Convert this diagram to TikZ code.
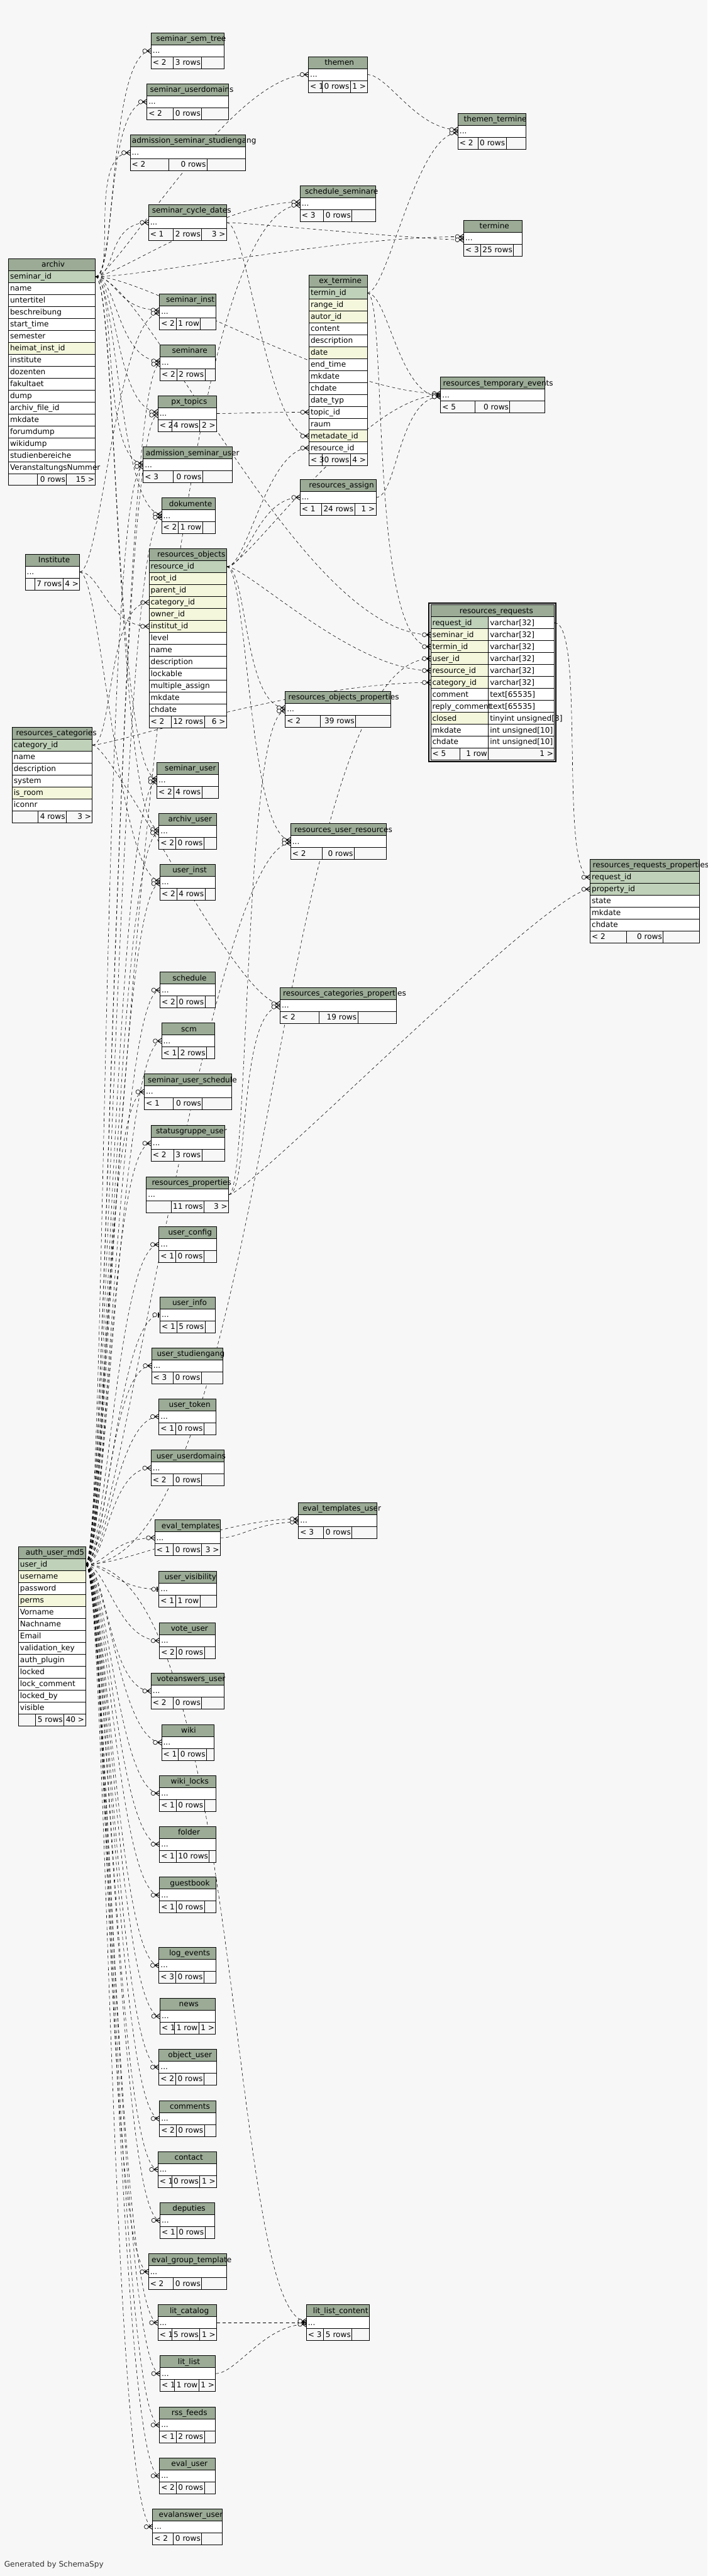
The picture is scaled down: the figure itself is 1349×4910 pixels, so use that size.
\documentclass[tikz,border=0pt]{standalone}
\usepackage{fontspec}
\newfontfamily\erfont{DejaVu Sans}
\usetikzlibrary{calc}
\pgfdeclarelayer{back}
\pgfsetlayers{back,main}
\definecolor{hdrcol}{RGB}{155,171,150}
\definecolor{colp}{RGB}{191,209,185}
\definecolor{colf}{RGB}{244,247,220}
\definecolor{coln}{RGB}{255,255,255}
\definecolor{bgcol}{RGB}{247,247,247}
\newlength\ttlw \newlength\lftw \newlength\midw \newlength\rgtw
\newcommand\erfnt{\erfont\fontsize{14.5}{17}\selectfont}
% Textbreite messen, auch innerhalb des Bildes
\newcommand\measure[2]{\setbox0=\hbox{\pgfinterruptpicture\erfnt #2\endpgfinterruptpicture}\global#1=\wd0\relax}
\def\rh{22.75}
\tikzset{
  tabline/.style={draw=black, line width=0.9pt},
  tabtext/.style={font=\erfnt, inner sep=0pt},
  fk/.style={dashed, dash pattern=on 6pt off 5pt, line width=0.7pt},
  crowline/.style={line width=1.1pt},
  crowcirc/.style={line width=0.8pt, fill=bgcol}
}
% Tabellenteile
\newcommand\tabtitle[5]{%
  \measure\ttlw{#5}%
  \pgfmathsetmacro\tx{#2+max(3,(#4-0.9*\ttlw)/2)}%
  \path[fill=hdrcol, tabline] (#2,#3) rectangle ++(#4,\rh);
  \node[tabtext, anchor=base west] (#1-title) at (\tx,#3+16) {#5};
}
\newcommand\tabrow[6]{%
  \path[fill=#5, tabline] (#2,#3) rectangle ++(#4,\rh);
  \node[tabtext, anchor=base west] (#1) at (#2+3,#3+16) {#6};
  \coordinate (#1-l) at (#2,#3+\rh/2);
  \coordinate (#1-la) at (#2,#3+\rh/2-3);
  \coordinate (#1-lb) at (#2,#3+\rh/2+3);
  \coordinate (#1-r) at (#2+#4,#3+\rh/2);
}
\newcommand\tabfoot[7]{%
  \measure\lftw{#5}\measure\midw{#6}\measure\rgtw{#7}%
  \pgfmathsetmacro\ctwo{max(#4/3,\midw+6)}%
  \pgfmathsetmacro\cone{max((#4-\ctwo)/2,\lftw+6)}%
  \pgfmathsetmacro\cthree{max(#4-\ctwo-\cone,\rgtw+6)}%
  \pgfmathsetmacro\cuta{#2+#4-\ctwo-\cthree}%
  \pgfmathsetmacro\cutb{#2+#4-\cthree}%
  \path[fill=bgcol, tabline] (#2,#3) rectangle ++(#4,\rh);
  \draw[tabline] (\cuta,#3) -- ++(0,\rh) (\cutb,#3) -- ++(0,\rh);
  \node[tabtext, anchor=base west] (#1-f1) at (#2+3,#3+16) {#5};
  \node[tabtext, anchor=base east] (#1-f2) at (\cutb-2,#3+16) {#6};
  \node[tabtext, anchor=base east] (#1-f3) at (#2+#4-2,#3+16) {#7};
}
% kompakte Tabelle: id, x, y, Breite, Titel, links, Zeilen, rechts
\newcommand\ctab[8]{%
  \tabtitle{#1}{#2}{#3}{#4}{#5}%
  \tabrow{#1}{#2}{#3+\rh}{#4}{white}{...}%
  \tabfoot{#1}{#2}{#3+2*\rh}{#4}{#6}{#7}{#8}%
}
% Tabelle mit Spalten
\newcommand\dtab[9]{%
  \tabtitle{#1}{#2}{#3}{#4}{#5}%
  \foreach \c/\k [count=\i] in {#6}{%
    \tabrow{#1-\i}{#2}{#3+\i*\rh}{#4}{col\k}{\c}%
    \xdef\lastrow{\i}%
  }%
  \tabfoot{#1}{#2}{#3+\lastrow*\rh+\rh}{#4}{#7}{#8}{#9}%
}
% Beziehung: von, nach, Abstand aus, Abstand ein
\newcommand\relx[4]{%
  \draw[fk] (#1) .. controls ($(#1)+(#3,0)$) and ($(#2)+(-#4,0)$) .. (#2);
  \draw[crowline] ($(#2)+(-8,0)$) -- ($(#2)+(0,-5)$) ($(#2)+(-8,0)$) -- ($(#2)+(0,5)$) ($(#2)+(-8,0)$) -- (#2);
  \draw[crowcirc] ($(#2)+(-12,0)$) circle[radius=4pt];
}
\newcommand\rel[2]{\relx{#1}{#2}{40}{80}}
\newcommand\relone[2]{%
  \draw[fk] (#1) .. controls ($(#1)+(40,0)$) and ($(#2)+(-80,0)$) .. (#2);
  \draw[line width=2.5pt] ($(#2)+(-3,-5)$) -- ($(#2)+(-3,5)$);
  \draw[crowcirc] ($(#2)+(-10,0)$) circle[radius=4pt];
}

\begin{document}
\begin{tikzpicture}[x=1pt, y=-1pt]
  \useasboundingbox (0,0) rectangle (1349,4910);
  % Tabellen oben
  \ctab{semtree}{288}{63}{139}{seminar\_sem\_tree}{< 2}{3 rows}{}
  \ctab{semudom}{280}{160}{155}{seminar\_userdomains}{< 2}{0 rows}{}
  \ctab{admstud}{248}{257}{220}{admission\_seminar\_studiengang}{< 2}{0 rows}{}
  \ctab{cycle}{283}{390}{149}{seminar\_cycle\_dates}{< 1}{2 rows}{3 >}
  \ctab{themen}{588}{108}{112}{themen}{< 1}{0 rows}{1 >}
  \ctab{themterm}{873}{216}{130}{themen\_termine}{< 2}{0 rows}{}
  \ctab{schedsem}{572}{354}{144}{schedule\_seminare}{< 3}{0 rows}{}
  \ctab{termine}{884}{420}{111}{termine}{< 3}{25 rows}{}
  \ctab{seminst}{304}{560}{108}{seminar\_inst}{< 2}{1 row}{}
  \ctab{seminare}{305}{657}{106}{seminare}{< 2}{2 rows}{}
  \ctab{pxtopics}{301}{754}{112}{px\_topics}{< 2}{4 rows}{2 >}
  \ctab{admuser}{273}{852}{170}{admission\_seminar\_user}{< 3}{0 rows}{}
  \ctab{dokumente}{308}{949}{102}{dokumente}{< 2}{1 row}{}
  \ctab{resassign}{572}{914}{145}{resources\_assign}{< 1}{24 rows}{1 >}
  \ctab{restemp}{840}{719}{198}{resources\_temporary\_events}{< 5}{0 rows}{}
  \ctab{inst}{48}{1056}{104}{Institute}{}{7 rows}{4 >}
  \ctab{resobjprop}{544}{1318}{201}{resources\_objects\_properties}{< 2}{39 rows}{}
  % Tabellen Mitte
  \ctab{semuser}{299}{1453}{118}{seminar\_user}{< 2}{4 rows}{}
  \ctab{archivuser}{303}{1550}{110}{archiv\_user}{< 2}{0 rows}{}
  \ctab{userinst}{305}{1647}{106}{user\_inst}{< 2}{4 rows}{}
  \ctab{resuserres}{554}{1570}{182}{resources\_user\_resources}{< 2}{0 rows}{}
  \ctab{schedule}{305}{1853}{106}{schedule}{< 2}{0 rows}{}
  \ctab{rescatprop}{534}{1882}{222}{resources\_categories\_properties}{< 2}{19 rows}{}
  \ctab{scm}{308}{1950}{101}{scm}{< 1}{2 rows}{}
  \ctab{semusched}{275}{2047}{166}{seminar\_user\_schedule}{< 1}{0 rows}{}
  \ctab{statusgr}{288}{2145}{140}{statusgruppe\_user}{< 2}{3 rows}{}
  \ctab{resprop}{279}{2243}{157}{resources\_properties}{}{11 rows}{3 >}
  \ctab{userconfig}{303}{2338}{110}{user\_config}{< 1}{0 rows}{}
  \ctab{userinfo}{305}{2472}{106}{user\_info}{< 1}{5 rows}{}
  \ctab{userstud}{289}{2569}{136}{user\_studiengang}{< 3}{0 rows}{}
  \ctab{usertoken}{303}{2666}{109}{user\_token}{< 1}{0 rows}{}
  \ctab{userudom}{288}{2764}{139}{user\_userdomains}{< 2}{0 rows}{}
  \ctab{evaltpluser}{569}{2864}{150}{eval\_templates\_user}{< 3}{0 rows}{}
  \ctab{evaltpl}{295}{2897}{125}{eval\_templates}{< 1}{0 rows}{3 >}
  \ctab{uservis}{303}{2995}{110}{user\_visibility}{< 1}{1 row}{}
  \ctab{voteuser}{304}{3093}{107}{vote\_user}{< 2}{0 rows}{}
  % Tabellen unten
  \ctab{voteans}{288}{3189}{139}{voteanswers\_user}{< 2}{0 rows}{}
  \ctab{wiki}{308}{3287}{100}{wiki}{< 1}{0 rows}{}
  \ctab{wikilocks}{304}{3384}{108}{wiki\_locks}{< 1}{0 rows}{}
  \ctab{folder}{304}{3481}{108}{folder}{< 1}{10 rows}{}
  \ctab{guestbook}{304}{3578}{108}{guestbook}{< 1}{0 rows}{}
  \ctab{logevents}{303}{3712}{109}{log\_events}{< 3}{0 rows}{}
  \ctab{news}{305}{3809}{106}{news}{< 1}{1 row}{1 >}
  \ctab{objuser}{303}{3906}{110}{object\_user}{< 2}{0 rows}{}
  \ctab{comments}{304}{4004}{108}{comments}{< 2}{0 rows}{}
  \ctab{contact}{301}{4101}{112}{contact}{< 1}{0 rows}{1 >}
  \ctab{deputies}{305}{4198}{104}{deputies}{< 1}{0 rows}{}
  \ctab{evalgroup}{283}{4296}{149}{eval\_group\_template}{< 2}{0 rows}{}
  \ctab{litcat}{301}{4393}{112}{lit\_catalog}{< 1}{5 rows}{1 >}
  \ctab{litlistcont}{584}{4393}{120}{lit\_list\_content}{< 3}{5 rows}{}
  \ctab{litlist}{305}{4490}{106}{lit\_list}{< 1}{1 row}{1 >}
  \ctab{rss}{304}{4588}{107}{rss\_feeds}{< 1}{2 rows}{}
  \ctab{evaluser}{304}{4685}{107}{eval\_user}{< 2}{0 rows}{}
  \ctab{evalans}{291}{4782}{133}{evalanswer\_user}{< 2}{0 rows}{}
  % Tabellen mit Spalten
  \dtab{archiv}{16}{493}{166}{archiv}{seminar\_id/p, name/n, untertitel/n, beschreibung/n, start\_time/n, semester/n, heimat\_inst\_id/f, institute/n, dozenten/n, fakultaet/n, dump/n, archiv\_file\_id/n, mkdate/n, forumdump/n, wikidump/n, studienbereiche/n, VeranstaltungsNummer/n}{}{0 rows}{15 >}
  \dtab{exterm}{589}{524}{111}{ex\_termine}{termin\_id/p, range\_id/f, autor\_id/f, content/n, description/n, date/f, end\_time/n, mkdate/n, chdate/n, date\_typ/n, topic\_id/n, raum/n, metadate\_id/f, resource\_id/n}{< 3}{0 rows}{4 >}
  \dtab{resobj}{284}{1046}{148}{resources\_objects}{resource\_id/p, root\_id/f, parent\_id/f, category\_id/f, owner\_id/f, institut\_id/f, level/n, name/n, description/n, lockable/n, multiple\_assign/n, mkdate/n, chdate/n}{< 2}{12 rows}{6 >}
  \dtab{rescat}{23}{1386}{153}{resources\_categories}{category\_id/p, name/n, description/n, system/n, is\_room/f, iconnr/n}{}{4 rows}{3 >}
  \dtab{auth}{35}{2948}{128}{auth\_user\_md5}{user\_id/p, username/f, password/n, perms/f, Vorname/n, Nachname/n, Email/n, validation\_key/n, auth\_plugin/n, locked/n, lock\_comment/n, locked\_by/n, visible/n}{}{5 rows}{40 >}
  \dtab{resreqprop}{1125}{1638}{209}{resources\_requests\_properties}{request\_id/p, property\_id/p, state/n, mkdate/n, chdate/n}{< 2}{0 rows}{}
  % resources_requests mit Typen
  \tabtitle{resreq}{821}{1153}{236}{resources\_requests}
  \foreach \c/\ty/\k [count=\i] in {request\_id/varchar[32]/p, seminar\_id/varchar[32]/f, termin\_id/varchar[32]/f, user\_id/varchar[32]/f, resource\_id/varchar[32]/f, category\_id/varchar[32]/f, comment/text[65535]/n, reply\_comment/text[65535]/n, closed/tinyint unsigned[3]/f, mkdate/int unsigned[10]/n, chdate/int unsigned[10]/n} {
    \path[fill=col\k, tabline] (821,1153+\i*\rh) rectangle ++(110,\rh);
    \path[fill=white, tabline] (931,1153+\i*\rh) rectangle ++(126,\rh);
    \node[tabtext, anchor=base west] (resreq-\i) at (824,1153+\i*\rh+16) {\c};
    \node[tabtext, anchor=base west] (resreq-\i-type) at (934,1153+\i*\rh+16) {\ty};
    \coordinate (resreq-\i-l) at (821,1153+\i*\rh+\rh/2);
    \coordinate (resreq-\i-r) at (1057,1153+\i*\rh+\rh/2);
  }
  \path[fill=bgcol, tabline] (821,1153+12*\rh) rectangle ++(236,\rh);
  \draw[tabline] (877,1153+12*\rh) -- ++(0,\rh) (931,1153+12*\rh) -- ++(0,\rh);
  \node[tabtext, anchor=base west] (resreq-f1) at (824,1153+12*\rh+16) {< 5};
  \node[tabtext, anchor=base east] (resreq-f2) at (929,1153+12*\rh+16) {1 row};
  \node[tabtext, anchor=base east] (resreq-f3) at (1055,1153+12*\rh+16) {1 >};
  \draw[line width=2.5pt] (818,1150) rectangle (1060,1153+13*\rh+3);
  % Fusszeile
  \node[tabtext, anchor=base west, text=black!80] (credit) at (8,4892) {Generated by SchemaSpy};
  % Beziehungen
  \begin{pgfonlayer}{back}
    \fill[bgcol] (0,0) rectangle (1349,4910);
    % archiv.seminar_id
    \foreach \tb in {semtree, semudom, admstud, cycle} {\rel{archiv-1-r}{\tb-l}}
    \foreach \tb in {seminst, seminare, pxtopics, admuser, dokumente, semuser, archivuser} {\rel{archiv-1-r}{\tb-la}}
    \relx{archiv-1-r}{themen-l}{40}{150}
    \relx{archiv-1-r}{schedsem-la}{40}{150}
    \relx{archiv-1-r}{termine-la}{100}{250}
    \relx{archiv-1-r}{restemp-la}{100}{200}
    \relx{archiv-1-r}{resreq-2-l}{100}{250}
    % Institute
    \rel{inst-r}{seminst-lb}
    \rel{inst-r}{userinst-la}
    \rel{inst-r}{resobj-6-l}
    % resources_categories
    \rel{rescat-1-r}{resobj-4-l}
    \relx{rescat-1-r}{resreq-6-l}{40}{250}
    \rel{rescat-1-r}{rescatprop-la}
    % resources_objects
    \rel{resobj-1-r}{exterm-14-l}
    \rel{resobj-1-r}{resassign-l}
    \relx{resobj-1-r}{resreq-5-l}{40}{150}
    \rel{resobj-1-r}{resobjprop-la}
    \rel{resobj-1-r}{resuserres-la}
    \relx{resobj-1-r}{restemp-l}{40}{150}
    % ex_termine
    \rel{exterm-1-r}{themterm-lb}
    \relx{exterm-1-r}{resreq-3-l}{40}{120}
    \rel{exterm-1-r}{restemp-lb}
    % weitere
    \rel{pxtopics-r}{exterm-11-l}
    \rel{cycle-r}{exterm-13-l}
    \rel{cycle-r}{termine-lb}
    \rel{themen-r}{themterm-la}
    \rel{resassign-r}{restemp-lb}
    \relx{resreq-1-r}{resreqprop-1-l}{60}{60}
    \rel{resprop-r}{resreqprop-2-l}
    \rel{resprop-r}{rescatprop-lb}
    \rel{resprop-r}{resobjprop-lb}
    \rel{evaltpl-r}{evaltpluser-lb}
    \rel{litcat-r}{litlistcont-l}
    \rel{litlist-r}{litlistcont-lb}
    % auth_user_md5.user_id
    \foreach \tb in {schedule, scm, semusched, statusgr, userconfig, usertoken, userstud, userudom, evaltpl, voteuser, voteans, wiki, wikilocks, folder, guestbook, logevents, news, objuser, comments, contact, deputies, evalgroup, litcat, litlist, rss, evaluser, evalans} {\rel{auth-1-r}{\tb-l}}
    \foreach \tb in {userinfo, uservis} {\relone{auth-1-r}{\tb-l}}
    \foreach \tb in {semuser, archivuser, userinst, admuser, dokumente, seminare, pxtopics} {\rel{auth-1-r}{\tb-lb}}
    \relx{auth-1-r}{schedsem-lb}{40}{300}
    \relx{auth-1-r}{resuserres-lb}{60}{150}
    \relx{auth-1-r}{resreq-4-l}{350}{300}
    \relx{auth-1-r}{litlistcont-la}{300}{150}
    \relx{auth-1-r}{evaltpluser-la}{80}{150}
  \end{pgfonlayer}
\end{tikzpicture}
\end{document}
